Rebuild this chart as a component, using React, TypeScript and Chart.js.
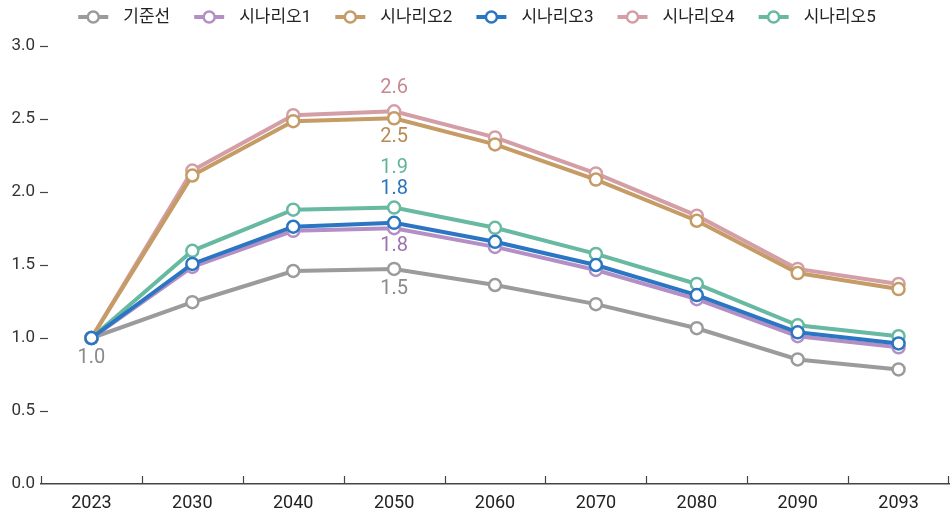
import React, { useEffect, useRef } from "react";
import { Chart, registerables } from "chart.js";

Chart.register(...registerables);

const years = ["2023", "2030", "2040", "2050", "2060", "2070", "2080", "2090", "2093"];

const baseline = [1.0, 1.245, 1.459, 1.473, 1.363, 1.232, 1.067, 0.853, 0.785];
const scenario1 = [1.0, 1.487, 1.734, 1.752, 1.624, 1.466, 1.266, 1.012, 0.936];
const scenario2 = [1.0, 2.113, 2.485, 2.505, 2.326, 2.085, 1.803, 1.445, 1.335];
const scenario3 = [1.0, 1.507, 1.762, 1.789, 1.659, 1.5, 1.294, 1.039, 0.963];
const scenario4 = [1.0, 2.147, 2.526, 2.553, 2.374, 2.127, 1.838, 1.473, 1.37];
const scenario5 = [1.0, 1.597, 1.879, 1.893, 1.755, 1.576, 1.37, 1.087, 1.012];

const seriesNames = ["기준선", "시나리오1", "시나리오2", "시나리오3", "시나리오4", "시나리오5"];
const seriesValues = [baseline, scenario1, scenario2, scenario3, scenario4, scenario5];
const lineColors = ["#9b9b9b", "#b48fc6", "#c59b66", "#2b76c2", "#d49ea6", "#68b9a1"];
const labelColors = ["#8a8a8a", "#9c72b0", "#b88a52", "#2a74c0", "#c98791", "#5fb49b"];
// drawing order: lower number is painted on top
const drawOrder = [5, 3, 1, 0, 4, 2];

const yTicks = [0, 0.5, 1.0, 1.5, 2.0, 2.5, 3.0];

// value labels: [series index, category index, vertical offset]
const valueLabels: [number, number, number][] = [
  [0, 0, 20],
  [4, 3, -23],
  [2, 3, 19],
  [5, 3, -40],
  [3, 3, -34],
  [1, 3, 18],
  [0, 3, 20],
];

const FONT = "Roboto, 'Noto Sans CJK KR', sans-serif";
const WIDTH = 950;
const HEIGHT = 510;

function drawMarker(ctx: CanvasRenderingContext2D, x: number, y: number, color: string) {
  ctx.strokeStyle = color;
  ctx.lineWidth = 4;
  ctx.beginPath();
  ctx.moveTo(x, y);
  ctx.lineTo(x + 30, y);
  ctx.stroke();
  ctx.beginPath();
  ctx.arc(x + 15, y, 5.5, 0, Math.PI * 2);
  ctx.fillStyle = "#fff";
  ctx.fill();
  ctx.lineWidth = 2.5;
  ctx.stroke();
}

const legendBar = {
  id: "legendBar",
  afterDraw(chart: any) {
    const { ctx, width } = chart;
    ctx.save();
    ctx.font = `17px ${FONT}`;
    const markerW = 30;
    const textGap = 15;
    const itemGap = 24;
    const widths = seriesNames.map((n) => ctx.measureText(n).width);
    const total =
      widths.reduce((a, w) => a + markerW + textGap + w, 0) + itemGap * (seriesNames.length - 1);
    let x = (width - total) / 2 + 2;
    const y = 17;
    ctx.textBaseline = "middle";
    ctx.textAlign = "left";
    seriesNames.forEach((n, i) => {
      drawMarker(ctx, x, y, lineColors[i]);
      x += markerW + textGap;
      ctx.fillStyle = "#222";
      ctx.fillText(n, x, y + 1);
      x += widths[i] + itemGap;
    });
    ctx.restore();
  },
};

const axisMarks = {
  id: "axisMarks",
  afterDatasetsDraw(chart: any) {
    const { ctx, chartArea, scales } = chart;
    const x = scales.x;
    const y = scales.y;
    ctx.save();
    ctx.strokeStyle = "#444";
    ctx.lineWidth = 1.2;
    // short dashes beside the value ticks
    yTicks.forEach((v) => {
      if (v === 0) return;
      const py = Math.round(y.getPixelForValue(v)) + 0.5;
      ctx.beginPath();
      ctx.moveTo(chartArea.left - 1, py);
      ctx.lineTo(chartArea.left + 7, py);
      ctx.stroke();
    });
    // upward ticks between categories
    const n = years.length;
    const w = (x.right - x.left) / n;
    for (let i = 0; i <= n; i++) {
      const px = Math.min(Math.round(x.left + i * w) + 0.5, x.right - 0.5);
      ctx.beginPath();
      ctx.moveTo(px, chartArea.bottom - 8);
      ctx.lineTo(px, chartArea.bottom);
      ctx.stroke();
    }
    // value labels
    ctx.font = `20px ${FONT}`;
    ctx.textAlign = "center";
    ctx.textBaseline = "middle";
    valueLabels.forEach(([s, i, dy]) => {
      const v = seriesValues[s][i];
      ctx.fillStyle = labelColors[s];
      ctx.fillText(v.toFixed(1), x.getPixelForValue(i), y.getPixelForValue(v) + dy);
    });
    ctx.restore();
  },
};

export default function App() {
  const ref = useRef<HTMLCanvasElement | null>(null);

  useEffect(() => {
    if (!ref.current) return;
    const chart = new Chart(ref.current, {
      type: "line",
      data: {
        labels: years,
        datasets: seriesNames.map((name, i) => ({
          label: name,
          data: seriesValues[i],
          borderColor: lineColors[i],
          backgroundColor: lineColors[i],
          borderWidth: 4,
          pointRadius: 6,
          pointHoverRadius: 6,
          pointBorderWidth: 2.5,
          pointBackgroundColor: "#fff",
          pointBorderColor: lineColors[i],
          tension: 0,
          order: drawOrder[i],
        })),
      },
      options: {
        animation: false,
        responsive: false,
        devicePixelRatio: 1,
        layout: { autoPadding: false, padding: { left: 8, right: 1, top: 46, bottom: -12 } },
        plugins: {
          tooltip: { enabled: false },
          legend: { display: false },
        },
        scales: {
          x: {
            offset: true,
            grid: { display: false, drawTicks: false },
            border: { display: true, color: "#444", width: 1.5 },
            ticks: { color: "#222", font: { family: FONT, size: 18, lineHeight: 1 }, padding: 10 },
            afterFit: (s: any) => {
              s.paddingLeft = 0;
              s.paddingRight = 0;
            },
          },
          y: {
            min: 0,
            max: 3,
            grid: { display: false, drawTicks: false },
            border: { display: false },
            afterBuildTicks: (s: any) => {
              s.ticks = yTicks.map((v) => ({ value: v }));
            },
            afterFit: (s: any) => {
              s.width = 33;
              s.paddingTop = 0;
              s.paddingBottom = 0;
            },
            ticks: {
              color: "#333",
              padding: 6,
              font: { family: FONT, size: 17 },
              callback: (v: any) => Number(v).toFixed(1),
            },
          },
        },
      },
      plugins: [axisMarks, legendBar],
    });
    return () => chart.destroy();
  }, []);

  return (
    <div style={{ position: "fixed", left: 0, top: 0, width: WIDTH, height: HEIGHT, background: "#fff" }}>
      <canvas ref={ref} width={WIDTH} height={HEIGHT} style={{ display: "block" }} />
    </div>
  );
}
